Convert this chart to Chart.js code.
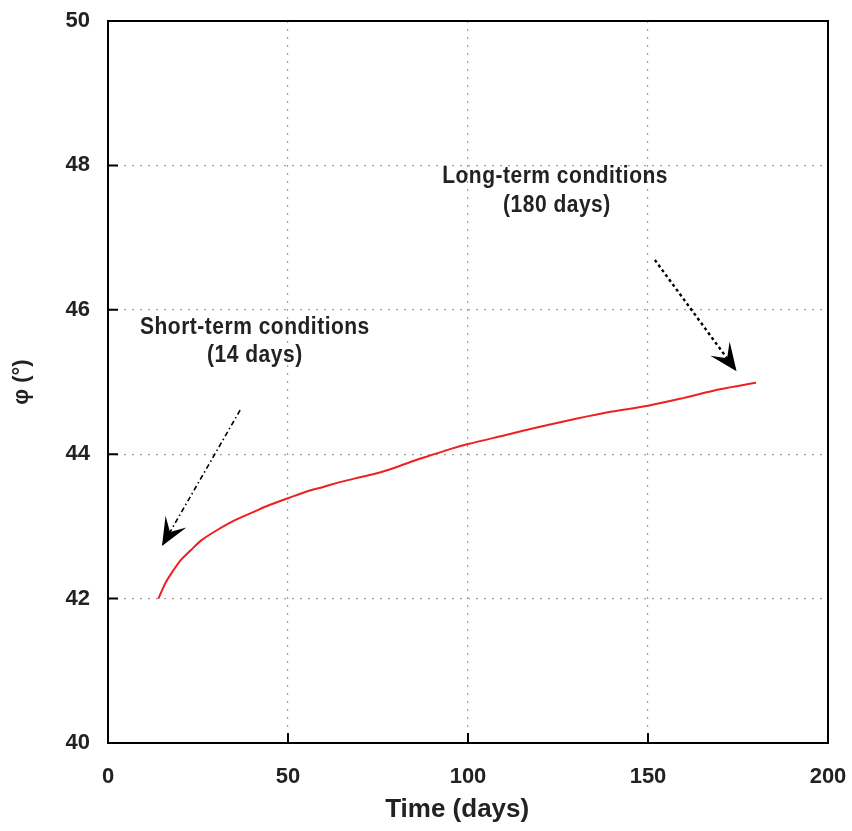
<!DOCTYPE html>
<html>
<head>
<meta charset="utf-8">
<script src="https://cdn.jsdelivr.net/npm/chart.js@4/dist/chart.umd.min.js"></script>
<style>
  html, body { margin: 0; padding: 0; background: #fff; }
  #wrap { width: 852px; height: 831px; }
</style>
</head>
<body>
<div id="wrap"><canvas id="c" width="852" height="831"></canvas></div>
<script>
// Friction angle evolution over curing time
const days = [14, 16, 18, 20, 23, 26, 30, 35, 40, 45, 50, 55, 60, 65, 70, 75, 80, 85, 90, 95, 100, 110, 120, 130, 140, 150, 160, 170, 180];
const phi  = [42.00, 42.22, 42.38, 42.52, 42.67, 42.81, 42.94, 43.08, 43.19, 43.30, 43.39, 43.48, 43.55, 43.62, 43.68, 43.74, 43.82, 43.91, 43.99, 44.07, 44.14, 44.26, 44.38, 44.49, 44.59, 44.67, 44.78, 44.90, 44.99];

const xTicks = [0, 50, 100, 150, 200];
const yTicks = [40, 42, 44, 46, 48, 50];

// Callout texts and arrows, placed in data units
const noteShort = ["Short-term conditions", "(14 days)"];
const noteLong  = ["Long-term conditions", "(180 days)"];
const noteShortAt = [[40.8, 45.76], [40.8, 45.37]];
const noteLongAt  = [[124.2, 47.85], [124.7, 47.44]];
const arrowShort = { from: [36.7, 44.61], to: [15.0, 42.73] };
const arrowLong  = { from: [151.9, 46.69], to: [174.6, 45.15] };

const FONT = "'Liberation Sans', Arial, sans-serif";

const points = days.map((d, i) => ({ x: d, y: phi[i] }));

function arrowHead(ctx, x0, y0, x1, y1) {
  const ang = Math.atan2(y1 - y0, x1 - x0);
  const len = 28, half = 12, notch = 16;
  ctx.save();
  ctx.translate(x1, y1);
  ctx.rotate(ang);
  ctx.beginPath();
  ctx.moveTo(0, 0);
  ctx.lineTo(-len, -half);
  ctx.lineTo(-notch, 0);
  ctx.lineTo(-len, half);
  ctx.closePath();
  ctx.fillStyle = '#000';
  ctx.fill();
  ctx.restore();
}

const decor = {
  id: 'decor',
  afterDatasetsDraw(chart) {
    const ctx = chart.ctx;
    const xs = chart.scales.x, ys = chart.scales.y;
    const a = chart.chartArea;
    const px = v => xs.getPixelForValue(v);
    const py = v => ys.getPixelForValue(v);

    // frame
    ctx.save();
    ctx.strokeStyle = '#000';
    ctx.lineWidth = 2;
    ctx.strokeRect(a.left, a.top, a.right - a.left, a.bottom - a.top);

    // inward tick marks
    ctx.beginPath();
    yTicks.slice(1, -1).forEach(v => {
      ctx.moveTo(a.left, py(v)); ctx.lineTo(a.left + 10, py(v));
    });
    xTicks.slice(1, -1).forEach(v => {
      ctx.moveTo(px(v), a.bottom); ctx.lineTo(px(v), a.bottom - 10);
    });
    ctx.stroke();

    // arrows
    ctx.lineWidth = 1.6;
    let s = arrowShort;
    ctx.setLineDash([5, 3, 1.5, 3]);
    ctx.beginPath();
    ctx.moveTo(px(s.from[0]), py(s.from[1]));
    ctx.lineTo(px(s.to[0]), py(s.to[1]));
    ctx.stroke();
    arrowHead(ctx, px(s.from[0]), py(s.from[1]), px(s.to[0]), py(s.to[1]));

    s = arrowLong;
    ctx.setLineDash([3, 3]);
    ctx.lineWidth = 2.4;
    ctx.beginPath();
    ctx.moveTo(px(s.from[0]), py(s.from[1]));
    ctx.lineTo(px(s.to[0]), py(s.to[1]));
    ctx.stroke();
    ctx.setLineDash([]);
    arrowHead(ctx, px(s.from[0]), py(s.from[1]), px(s.to[0]), py(s.to[1]));

    // callout text
    ctx.fillStyle = '#222';
    ctx.textAlign = 'center';
    ctx.textBaseline = 'middle';
    ctx.font = 'bold 21px ' + FONT;
    if ('letterSpacing' in ctx) ctx.letterSpacing = '0.5px';
    const put = (txt, at) => {
      ctx.save();
      ctx.translate(px(at[0]), py(at[1]));
      ctx.scale(1, 1.1);
      ctx.fillText(txt, 0, 0);
      ctx.restore();
    };
    noteShort.forEach((t, i) => put(t, noteShortAt[i]));
    noteLong.forEach((t, i) => put(t, noteLongAt[i]));
    ctx.restore();
  }
};

const gridColor = ctx => {
  const v = ctx.tick ? ctx.tick.value : null;
  const sc = ctx.scale;
  return (v === sc.min || v === sc.max) ? 'rgba(0,0,0,0)' : '#a0a0a0';
};

new Chart(document.getElementById('c'), {
  type: 'line',
  data: {
    datasets: [{
      data: points,
      borderColor: '#ee2020',
      borderWidth: 2,
      pointRadius: 0,
      tension: 0.3,
      fill: false
    }]
  },
  options: {
    responsive: false,
    animation: false,
    devicePixelRatio: 1,
    layout: { padding: { top: 21, right: 24, left: 0, bottom: 0 } },
    plugins: { legend: { display: false }, tooltip: { enabled: false } },
    scales: {
      x: {
        type: 'linear',
        min: 0, max: 200,
        afterBuildTicks: sc => { sc.ticks = xTicks.map(v => ({ value: v })); },
        afterFit: sc => { sc.height = 88; sc.paddingLeft = 0; sc.paddingRight = 0; },
        grid: { color: gridColor, lineWidth: 1.2, drawTicks: false },
        border: { display: false, dash: [2, 6] },
        ticks: {
          padding: 21,
          color: '#222',
          font: { family: FONT, size: 22, weight: 'bold' },
          maxRotation: 0
        },
        title: {
          display: true,
          text: 'Time (days)   ',
          color: '#222',
          font: { family: FONT, size: 26, weight: 'bold' },
          padding: { top: 0, bottom: 6 }
        }
      },
      y: {
        type: 'linear',
        min: 40, max: 50,
        afterBuildTicks: sc => { sc.ticks = yTicks.map(v => ({ value: v })); },
        afterFit: sc => { sc.width = 108; sc.paddingTop = 0; sc.paddingBottom = 0; },
        grid: { color: gridColor, lineWidth: 1.2, drawTicks: false },
        border: { display: false, dash: [2, 6] },
        ticks: {
          padding: 18,
          color: '#222',
          font: { family: FONT, size: 22, weight: 'bold' }
        },
        title: {
          display: true,
          text: 'φ (°)',
          color: '#222',
          font: { family: FONT, size: 22, weight: 'bold' },
          padding: { top: 9, bottom: 0 }
        }
      }
    }
  },
  plugins: [decor]
});
</script>
</body>
</html>
